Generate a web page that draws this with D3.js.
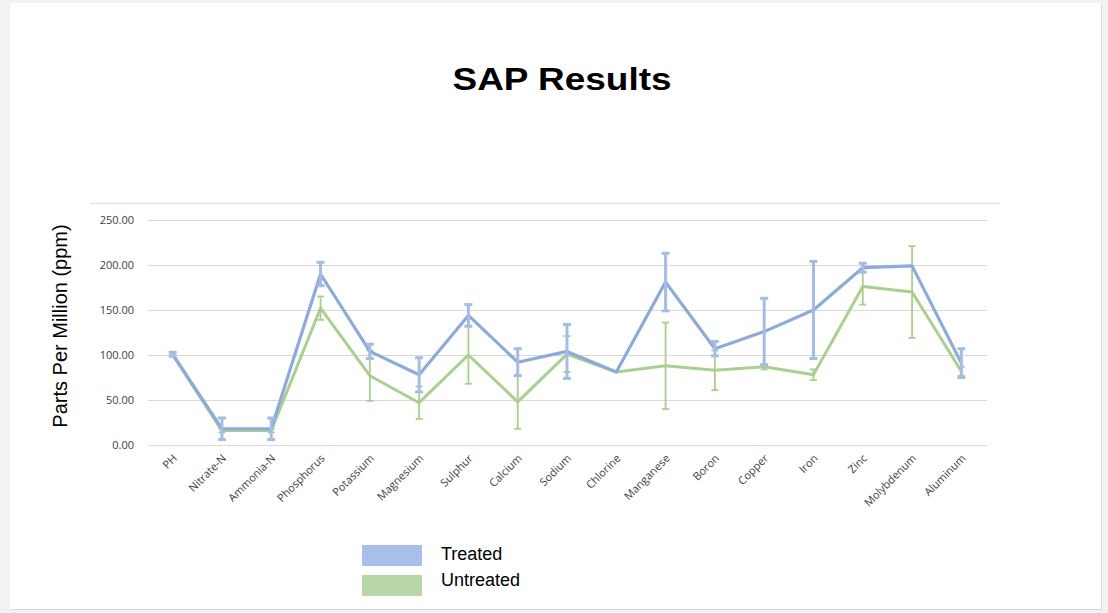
<!DOCTYPE html>
<html>
<head>
<meta charset="utf-8">
<script src="https://cdn.jsdelivr.net/npm/d3@7"></script>
<style>
  html, body { margin: 0; padding: 0; background: #f1f2f4; }
  svg { display: block; }
</style>
</head>
<body>
<svg id="chart" width="1108" height="613"></svg>
<script>
const categories = ["PH", "Nitrate-N", "Ammonia-N", "Phosphorus", "Potassium", "Magnesium", "Sulphur", "Calcium", "Sodium", "Chlorine", "Manganese", "Boron", "Copper", "Iron", "Zinc", "Molybdenum", "Aluminum"];
const treated      = [101, 18, 18, 190, 104, 78, 144, 92, 104, 81, 181, 107, 126, 150, 197, 199, 91];
const treatedErr   = [2, 12, 12, 13, 8, 19, 12, 15, 30, 0, 32, 8, 37, 54, 5, 0, 16];
const untreated    = [100, 16, 16, 152, 77, 47, 100, 48, 101, 81, 88, 83, 87, 78, 176, 170, 82];
const untreatedErr = [2, 2, 2, 13, 28, 18, 32, 30, 20, 0, 48, 22, 3, 6, 20, 51, 5];
const yTicks = [0, 50, 100, 150, 200, 250];
const seriesNames = ["Treated", "Untreated"];
const titleText = "SAP Results";
const yTitle = "Parts Per Million (ppm)";

const svg = d3.select("#chart");

// slide background
svg.append("rect").attr("x", 0).attr("y", 0).attr("width", 1108).attr("height", 613).attr("fill", "#f1f2f4");
svg.append("rect").attr("x", 11).attr("y", 4).attr("width", 1091).attr("height", 606).attr("fill", "#d9d9d9");
svg.append("rect").attr("x", 10).attr("y", 3).attr("width", 1091).attr("height", 606).attr("fill", "#ffffff");

// chart image top border
svg.append("line").attr("x1", 90).attr("x2", 1000).attr("y1", 203.5).attr("y2", 203.5)
  .attr("stroke", "#e3e3e3").attr("stroke-width", 1.5);

const x = d3.scalePoint().domain(categories).range([148, 986]).padding(0.5);
const y = d3.scaleLinear().domain([0, 250]).range([445, 220]);

// gridlines
svg.append("g").selectAll("line").data(yTicks).join("line")
  .attr("x1", 148).attr("x2", 987)
  .attr("y1", d => y(d) + 0.5).attr("y2", d => y(d) + 0.5)
  .attr("stroke", "#d9d9d9").attr("stroke-width", 1);

// y tick labels
svg.append("g").selectAll("text").data(yTicks).join("text")
  .attr("x", 134).attr("y", d => y(d) + 4)
  .attr("text-anchor", "end")
  .attr("font-family", "'Open Sans', sans-serif").attr("font-size", 11)
  .attr("fill", "#404040")
  .text(d => d3.format(".2f")(d));

// x labels
svg.append("g").selectAll("text").data(categories).join("text")
  .attr("text-anchor", "end")
  .attr("font-family", "'Open Sans', sans-serif").attr("font-size", 11)
  .attr("fill", "#404040")
  .attr("transform", d => `translate(${x(d) + 5},${459}) rotate(-45)`)
  .text(d => d);

function drawSeries(vals, errs, lineColor, errColor, lw, ew, capW) {
  const g = svg.append("g");
  const line = d3.line().x((d, i) => x(categories[i])).y(d => y(d));
  g.append("path").datum(vals).attr("d", line)
    .attr("fill", "none").attr("stroke", lineColor).attr("stroke-width", lw)
    .attr("stroke-linejoin", "round");
  const eb = g.append("g").selectAll("g").data(vals.map((v, i) => ({v, e: errs[i], c: categories[i]})).filter(d => d.e > 0)).join("g");
  eb.append("line")
    .attr("x1", d => x(d.c)).attr("x2", d => x(d.c))
    .attr("y1", d => y(d.v + d.e)).attr("y2", d => y(d.v - d.e))
    .attr("stroke", errColor).attr("stroke-width", ew);
  eb.append("line")
    .attr("x1", d => x(d.c) - capW / 2).attr("x2", d => x(d.c) + capW / 2)
    .attr("y1", d => y(d.v + d.e)).attr("y2", d => y(d.v + d.e))
    .attr("stroke", errColor).attr("stroke-width", ew);
  eb.append("line")
    .attr("x1", d => x(d.c) - capW / 2).attr("x2", d => x(d.c) + capW / 2)
    .attr("y1", d => y(d.v - d.e)).attr("y2", d => y(d.v - d.e))
    .attr("stroke", errColor).attr("stroke-width", ew);
}

drawSeries(untreated, untreatedErr, "#a9d08e", "#a9cf8c", 3, 1.8, 7);
drawSeries(treated, treatedErr, "#8eaadb", "#a3bde6", 3.2, 3, 8);

// title
svg.append("text").attr("x", 562).attr("y", 90)
  .attr("text-anchor", "middle")
  .attr("font-family", "'Liberation Sans', Arial, sans-serif").attr("font-weight", "bold")
  .attr("font-size", 32).attr("fill", "#000")
  .attr("textLength", 219).attr("lengthAdjust", "spacingAndGlyphs")
  .text(titleText);

// y axis title
svg.append("text")
  .attr("transform", "translate(67,326) rotate(-90)")
  .attr("text-anchor", "middle")
  .attr("font-family", "'Liberation Sans', Arial, sans-serif")
  .attr("font-size", 20).attr("fill", "#000")
  .text(yTitle);

// legend
const legendColors = ["#a9bfea", "#b9d6a6"];
const lg = svg.append("g");
seriesNames.forEach((name, i) => {
  lg.append("rect").attr("x", 362).attr("y", 545 + i * 30).attr("width", 60).attr("height", 21)
    .attr("fill", legendColors[i]);
  lg.append("text").attr("x", 441).attr("y", 560 + i * 25.5)
    .attr("font-family", "'Liberation Sans', Arial, sans-serif").attr("font-size", 18)
    .attr("fill", "#000").text(name);
});
</script>
</body>
</html>
